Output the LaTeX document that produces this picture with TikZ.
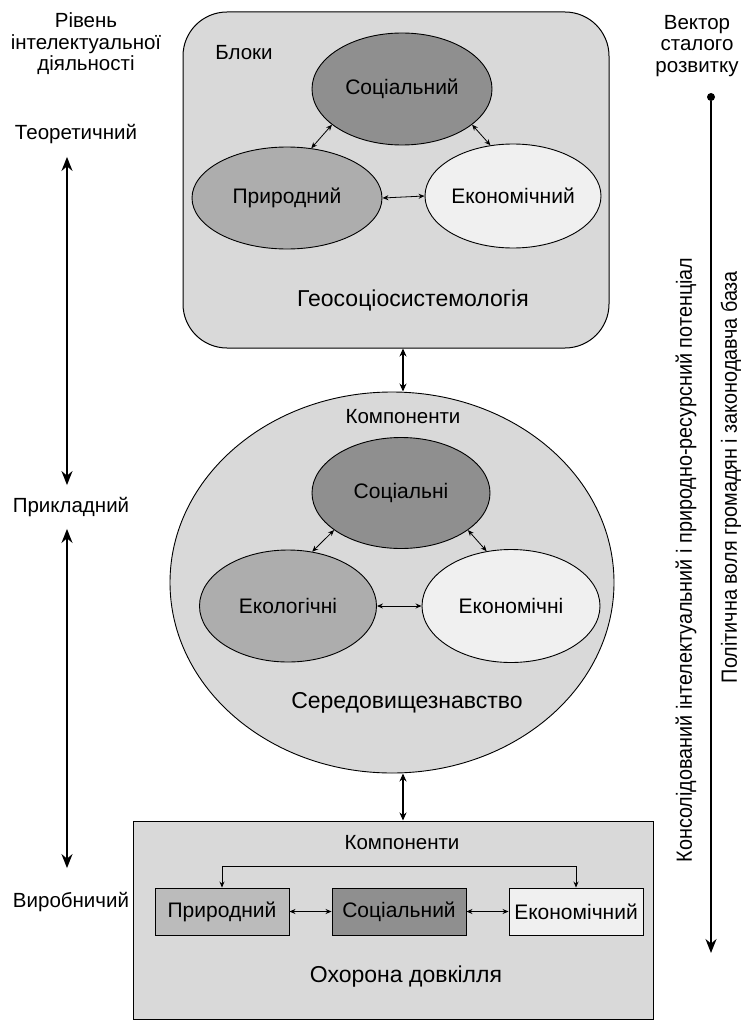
\documentclass[tikz,border=0pt]{standalone}
\usepackage{fontspec}
\setmainfont{Liberation Sans}
\newfontfamily\narrowfont[FakeStretch=0.9]{Liberation Sans}
\usetikzlibrary{shapes.geometric,arrows.meta}
\definecolor{boxgray}{HTML}{D9D9D9}
\definecolor{darkg}{HTML}{8F8F8F}
\definecolor{midg}{HTML}{ADADAD}
\definecolor{lightg}{HTML}{F0F0F0}
\definecolor{bot1}{HTML}{BBBBBB}
\begin{document}
\begin{tikzpicture}[x=1pt,y=-1pt,
  lbl/.style={font=\fontsize{20.5}{21.5}\selectfont, align=center, inner sep=0pt},
  biglbl/.style={font=\fontsize{23}{26}\selectfont, inner sep=0pt},
  ell/.style={ellipse, draw, line width=0.9pt, inner sep=0pt, font=\fontsize{21}{24}\selectfont},
  tip/.style={line width=0.8pt, {Stealth[length=6pt,width=5pt]}-{Stealth[length=6pt,width=5pt]}},
  bigtip/.style={line width=1.8pt, {Stealth[length=14pt,width=11pt]}-{Stealth[length=14pt,width=11pt]}},
  cbox/.style={draw, line width=0.9pt, minimum width=134pt, minimum height=47pt, inner sep=0pt, font=\fontsize{21}{24}\selectfont},
  vtext/.style={rotate=90, inner sep=0pt, font=\narrowfont\fontsize{22}{24}\selectfont}
]
\useasboundingbox (0,0) rectangle (741,1022);
\fill[white] (0,0) rectangle (741,1022);

% left column
\node[lbl] (lvl) at (86,44) {Рівень\\інтелектуальної\\діяльності};
\node[lbl] (teor) at (76,134) {Теоретичний};
\node[lbl] (prykl) at (71,507) {Прикладний};
\node[lbl] (vyrob) at (71,902) {Виробничий};
\coordinate (lx) at (67,0);
\draw[bigtip] ([yshift=-13pt]teor.south -| lx) -- ([yshift=12pt]prykl.north -| lx);
\draw[bigtip] ([yshift=-12pt]prykl.south -| lx) -- ([yshift=24pt]vyrob.north -| lx);

% right column
\node[lbl] (vect) at (697,46) {Вектор\\сталого\\розвитку};
\node[circle, fill, inner sep=0pt, minimum size=8pt] (dot) at (711,97) {};
\coordinate (vend) at (711,953);
\draw[line width=1.8pt, -{Stealth[length=14pt,width=11pt]}] (dot) -- (vend);
\node[vtext] (potential) at (686,560) {Консолідований інтелектуальний і природно-ресурсний потенціал};
\node[vtext] (will) at (731,477) {Політична воля громадян і законодавча база};

% top block
\node[draw, fill=boxgray, rounded corners=44pt, line width=1pt, minimum width=426pt, minimum height=336pt, inner sep=0pt] (top) at (396,180) {};
\node[lbl] (bloky) at (244,53) {Блоки};
\node[ell, fill=darkg, minimum width=180pt, minimum height=112pt] (soc1) at (402,89) {Соціальний};
\node[ell, fill=midg, minimum width=190pt, minimum height=102pt] (pr1) at (287,198) {Природний};
\node[ell, fill=lightg, minimum width=176pt, minimum height=104pt] (ek1) at (513,196) {Економічний};
\draw[tip] (soc1.207) -- (pr1.64);
\draw[tip] (soc1.333) -- (ek1.114);
\draw[tip] (pr1.east) -- (ek1.west);
\node[biglbl] (geo) at (413,300) {Геосоціосистемологія};

% middle block
\node[ell, fill=boxgray, minimum width=444pt, minimum height=381pt] (mid) at (392,582.5) {};
\coordinate (cx) at (403,0);
\draw[tip, line width=1.3pt, {Stealth[length=8pt,width=7pt]}-{Stealth[length=8pt,width=7pt]}] (top.south -| cx) -- (mid.north -| cx);
\node[lbl] (komp2) at (403,417) {Компоненти};
\node[ell, fill=darkg, minimum width=178pt, minimum height=111pt] (soc2) at (401,493) {Соціальні};
\node[ell, fill=midg, minimum width=177pt, minimum height=112pt] (eco2) at (288,606) {Екологічні};
\node[ell, fill=lightg, minimum width=178pt, minimum height=113pt] (ekn2) at (511,606) {Економічні};
\draw[tip] (soc2.209) -- (eco2.66);
\draw[tip] (soc2.331) -- (ekn2.114);
\draw[tip] (eco2.east) -- (ekn2.west);
\node[biglbl] (sered) at (407,703) {Середовищезнавство};

% bottom block
\node[draw, fill=boxgray, line width=1pt, minimum width=520pt, minimum height=198pt, inner sep=0pt] (bot) at (393,920) {};
\draw[tip, line width=1.3pt, {Stealth[length=8pt,width=7pt]}-{Stealth[length=8pt,width=7pt]}] (mid.south -| cx) -- (bot.north -| cx);
\node[lbl] (komp3) at (402,843) {Компоненти};
\node[cbox, fill=bot1] (b1) at (222,911.5) {Природний};
\node[cbox, fill=darkg] (b2) at (399,911.5) {Соціальний};
\node[cbox, fill=lightg] (b3) at (576,911.5) {Економічний};
\draw[tip] (b1.north) -- ++(0,-21) -| (b3.north);
\draw[tip] (b1.east) -- (b2.west);
\draw[tip] (b2.east) -- (b3.west);
\node[biglbl] (okh) at (406,977) {Охорона довкілля};
\end{tikzpicture}
\end{document}
